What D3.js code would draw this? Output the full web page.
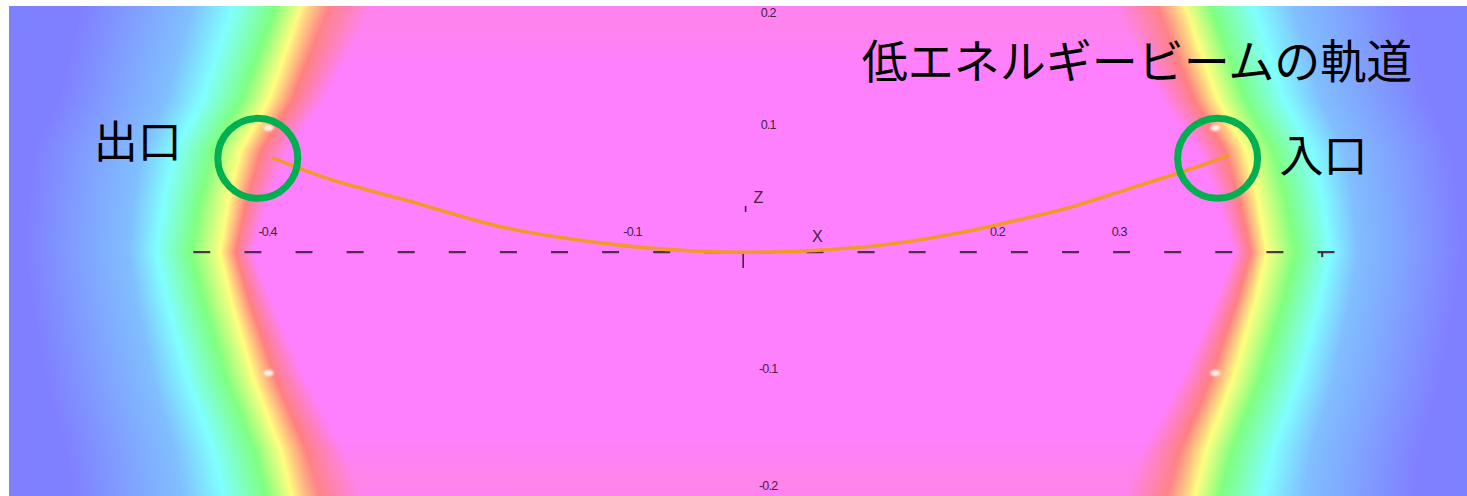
<!DOCTYPE html>
<html><head><meta charset="utf-8">
<script src="https://cdn.jsdelivr.net/npm/d3@7"></script>
<style>html,body{margin:0;padding:0;background:#fff;overflow:hidden}</style>
</head><body><svg id="c" width="1467" height="496"></svg>
<script>
// ---------- data (units of the plot axes) ----------
// field band boundaries: distance from centre of the yellow band at several Z levels
const fieldLevelsZ = [0.202, 0.125, 0.084, 0.043, 0, -0.039, -0.105, -0.163, -0.2];
const yellowDist   = [0.363, 0.390, 0.413, 0.423, 0.430, 0.421, 0.402, 0.380, 0.371];
// colour bands from inside (centre) to outside
const bandColors     = ["#ff80ff", "#ff8080", "#ffff80", "#80ff80", "#80ffff", "#80bfff", "#8080ff"];
const bandOffsetMid  = [-0.027, -0.013, 0, 0.024, 0.052, 0.075, 0.16];
const bandOffsetEdge = [-0.058, -0.023, 0, 0.021, 0.056, 0.090, 0.18];
// beam trajectory
const trajX = [-0.386, -0.337, -0.282, -0.200, -0.150, -0.095, -0.041, 0.014, 0.069, 0.123, 0.178, 0.233, 0.266, 0.320, 0.376, 0.398];
const trajZ = [0.077, 0.059, 0.044, 0.021, 0.012, 0.005, 0.001, 0.000, 0.002, 0.007, 0.016, 0.028, 0.036, 0.053, 0.071, 0.079];
// axis ticks
const xTickValues = [-0.4, -0.1, 0.2, 0.3];
const xTickLabels = ["-0.4", "-0.1", "0.2", "0.3"];
const zTickValues = [0.2, 0.1, -0.1, -0.2];
const zTickLabels = ["0.2", "0.1", "-0.1", "-0.2"];
// exit / entrance ports
const portNames = ["出口", "入口"];
const portX = [-0.399, 0.390];
const portZ = [0.077, 0.077];
// small white markers in the field
const markX = [-0.390, 0.388, -0.390, 0.388];
const markZ = [0.102, 0.102, -0.099, -0.099];
const titleText = "低エネルギービームの軌道";

// ---------- drawing ----------
const svg = d3.select("#c");
const x = d3.scaleLinear().domain([-0.6035, 0.595]).range([9, 1467]);
const z = d3.scaleLinear().domain([-0.2, 0.202]).range([496, 6]);
const yellowAt = d3.scaleLinear().domain(fieldLevelsZ).range(yellowDist);
const x0 = x.range()[0], xw = x.range()[1] - x.range()[0];

const defs = svg.append("defs");
defs.append("clipPath").attr("id", "plotclip").append("rect")
  .attr("x", x0).attr("y", z.range()[1]).attr("width", xw).attr("height", z.range()[0] - z.range()[1]);

const field = svg.append("g").attr("clip-path", "url(#plotclip)");
const rowTop = Math.round(z.range()[1]), rowBot = Math.round(z.range()[0]);
for (let py = rowTop; py < rowBot; py++) {
  const zv = z.invert(py + 0.5);
  const t = Math.min(1, Math.abs(zv) / 0.2);
  const dists = bandColors.map((c, i) => yellowAt(zv) + bandOffsetMid[i] * (1 - t) + bandOffsetEdge[i] * t);
  const stops = [];
  stops.push([0, "#7d80ff"]);
  for (let i = bandColors.length - 1; i >= 0; i--) stops.push([(x(-dists[i]) - x0) / xw, bandColors[i]]);
  for (let i = 0; i < bandColors.length; i++) stops.push([(x(dists[i]) - x0) / xw, bandColors[i]]);
  stops.push([1, "#7d80ff"]);
  const id = "g" + py;
  const g = defs.append("linearGradient").attr("id", id)
    .attr("gradientUnits", "userSpaceOnUse")
    .attr("x1", x0).attr("x2", x0 + xw).attr("y1", 0).attr("y2", 0);
  stops.forEach(s => g.append("stop").attr("offset", Math.max(0, Math.min(1, s[0]))).attr("stop-color", s[1]));
  field.append("rect").attr("x", x0).attr("y", py).attr("width", xw).attr("height", 1)
    .attr("fill", `url(#${id})`).attr("shape-rendering", "crispEdges");
}
// subtle pink tint near top and bottom edges of the central region
const tint = defs.append("linearGradient").attr("id", "tint").attr("x1", 0).attr("x2", 0).attr("y1", 0).attr("y2", 1);
[[0, 0.35], [0.12, 0], [0.88, 0], [1, 0.4]].forEach(s =>
  tint.append("stop").attr("offset", s[0]).attr("stop-color", "#ff90b0").attr("stop-opacity", s[1]));
field.append("rect").attr("x", x(-0.36)).attr("width", x(0.36) - x(-0.36))
  .attr("y", z.range()[1]).attr("height", z.range()[0] - z.range()[1]).attr("fill", "url(#tint)")
  .style("filter", "blur(12px)");

// white markers
field.selectAll("ellipse.mark").data(markX).join("ellipse").attr("class", "mark")
  .attr("cx", (d, i) => x(d)).attr("cy", (d, i) => z(markZ[i]))
  .attr("rx", 5).attr("ry", 3).attr("fill", "#ffffff").attr("opacity", 0.85)
  .style("filter", "blur(0.8px)");

// dashed X axis
const axisCol = "#43223f";
field.append("line").attr("x1", x(-0.452)).attr("x2", x(0.487)).attr("y1", z(0)).attr("y2", z(0))
  .attr("stroke", axisCol).attr("stroke-width", 2.2).attr("stroke-dasharray", "17 34.1").attr("opacity", 0.9);
field.append("line").attr("x1", x(0.476)).attr("x2", x(0.476)).attr("y1", z(0)).attr("y2", z(-0.004))
  .attr("stroke", axisCol).attr("stroke-width", 2);
// Z axis small tick
field.append("line").attr("x1", x(0)).attr("x2", x(0)).attr("y1", z(-0.001)).attr("y2", z(-0.013))
  .attr("stroke", axisCol).attr("stroke-width", 1.6);
field.append("line").attr("x1", x(0.002)).attr("x2", x(0.002)).attr("y1", z(0.038)).attr("y2", z(0.033))
  .attr("stroke", axisCol).attr("stroke-width", 1.6);

// tick labels
const tickFont = "Liberation Sans, sans-serif";
field.selectAll("text.xt").data(xTickValues).join("text").attr("class", "xt")
  .attr("x", d => x(d) + 11).attr("y", z(0) - 16)
  .attr("text-anchor", "middle").attr("font-family", tickFont)
  .attr("font-size", 12.5).attr("letter-spacing", -0.8).attr("fill", axisCol)
  .text((d, i) => xTickLabels[i]);
field.selectAll("text.zt").data(zTickValues).join("text").attr("class", "zt")
  .attr("x", x(0) + 25).attr("y", d => Math.min(490, Math.max(17, z(d) - 1)))
  .attr("text-anchor", "middle").attr("font-family", tickFont)
  .attr("font-size", 12.5).attr("letter-spacing", -0.8).attr("fill", axisCol)
  .text((d, i) => zTickLabels[i]);
field.append("text").attr("x", x(0.0125)).attr("y", z(0.045) + 6).attr("text-anchor", "middle")
  .attr("font-family", tickFont).attr("font-size", 16).attr("fill", axisCol).text("Z");
field.append("text").attr("x", x(0.061)).attr("y", z(0.013) + 6).attr("text-anchor", "middle")
  .attr("font-family", tickFont).attr("font-size", 16).attr("fill", axisCol).text("X");

// trajectory
const line = d3.line().x(d => x(d[0])).y(d => z(d[1])).curve(d3.curveCatmullRom.alpha(0.5));
const pts = trajX.map((v, i) => [v, trajZ[i]]);
field.append("path").attr("d", line(pts)).attr("fill", "none")
  .attr("stroke", "#f09a28").attr("stroke-width", 3.6).attr("stroke-linecap", "round")
  .style("filter", "blur(0.4px)");

// port circles and labels
svg.selectAll("circle.port").data(portX).join("circle").attr("class", "port")
  .attr("cx", d => x(d)).attr("cy", (d, i) => z(portZ[i])).attr("r", 40)
  .attr("fill", "none").attr("stroke", "#00b050").attr("stroke-width", 7);
const jp = "'Noto Sans CJK JP', 'Noto Sans CJK SC', sans-serif";
svg.selectAll("text.port").data(portNames).join("text").attr("class", "port")
  .attr("x", (d, i) => i === 0 ? x(portX[i]) - 76 : x(portX[i]) + 62)
  .attr("y", (d, i) => i === 0 ? z(portZ[i]) : z(portZ[i]) + 14)
  .attr("text-anchor", (d, i) => i === 0 ? "end" : "start")
  .attr("font-family", jp).attr("font-size", 44).attr("fill", "#000").text(d => d);
svg.append("text").attr("x", 1137).attr("y", 78).attr("text-anchor", "middle")
  .attr("font-family", jp).attr("font-size", 46).attr("fill", "#000").text(titleText);
</script></body></html>
